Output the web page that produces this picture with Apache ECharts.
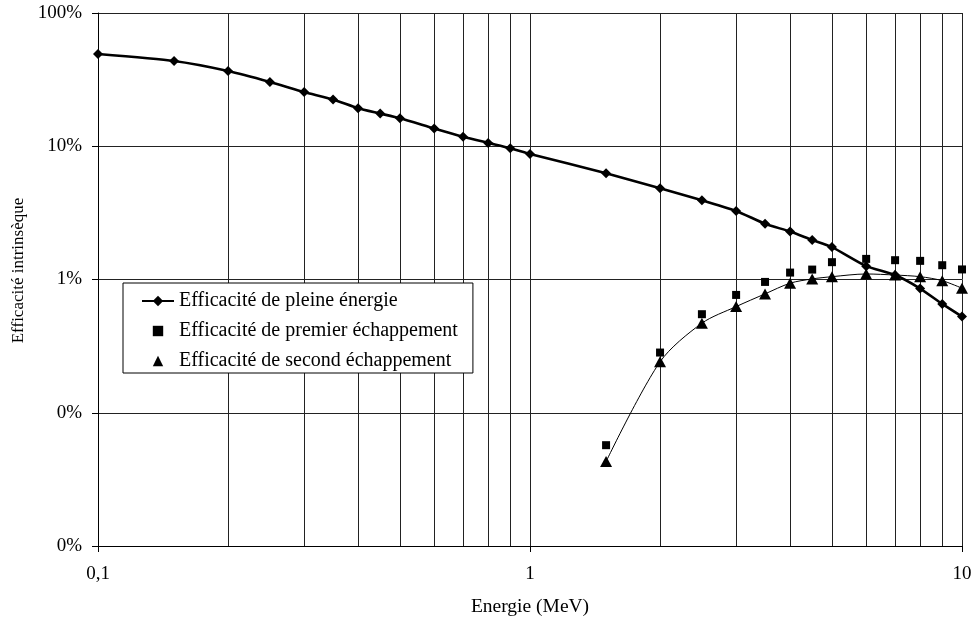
<!DOCTYPE html>
<html>
<head>
<meta charset="utf-8">
<title>Efficacité intrinsèque</title>
<script src="https://cdn.jsdelivr.net/npm/echarts@6/dist/echarts.min.js"></script>
<style>
  html, body { margin: 0; padding: 0; background: #fff; }
  #chart { width: 976px; height: 619px; }
</style>
</head>
<body>
<div id="chart"></div>
<script>
  // energies (MeV) and efficiencies (fraction, 1 = 100%)
  const energies = [0.1, 0.15, 0.2, 0.25, 0.3, 0.35, 0.4, 0.45, 0.5, 0.6, 0.7, 0.8, 0.9, 1,
    1.5, 2, 2.5, 3, 3.5, 4, 4.5, 5, 6, 7, 8, 9, 10]
  const pleine = [0.492, 0.436, 0.367, 0.304, 0.255, 0.224, 0.193, 0.176, 0.162, 0.136, 0.118, 0.106, 0.0966, 0.0875,
    0.0627, 0.0484, 0.0394, 0.0327, 0.0262, 0.0229, 0.0198, 0.0175, 0.0126, 0.0108, 0.00855, 0.00656, 0.00527]

  const escEnergies = [1.5, 2, 2.5, 3, 3.5, 4, 4.5, 5, 6, 7, 8, 9, 10]
  const premier = [0.000571, 0.00283, 0.00549, 0.00766, 0.00959, 0.01127, 0.01187, 0.01349, 0.01428, 0.01396, 0.0138, 0.0128, 0.0119]
  const second = [0.00043, 0.00241, 0.0047, 0.00626, 0.0078, 0.00938, 0.0101, 0.0105, 0.0110, 0.0108, 0.0105, 0.0098, 0.0086]

  const xTickLabels = ['0,1', '1', '10']
  const yTickLabels = ['0%', '0%', '1%', '10%', '100%']
  const minorGrid = [0.2, 0.3, 0.4, 0.5, 0.6, 0.7, 0.8, 0.9, 2, 3, 4, 5, 6, 7, 8, 9]

  const names = ['Efficacité de pleine énergie', 'Efficacité de premier échappement', 'Efficacité de second échappement']

  const font = 'Liberation Serif'
  const zip = (xs, ys) => xs.map((x, i) => [x, ys[i]])

  const chart = echarts.init(document.getElementById('chart'))

  const option = {
    backgroundColor: '#fff',
    animation: false,
    textStyle: { fontFamily: font, color: '#000' },
    grid: { left: 98, top: 13, right: 14, bottom: 73, outerBoundsMode: 'none' },
    legend: {
      left: 123,
      top: 283,
      orient: 'vertical',
      selectedMode: false,
      backgroundColor: '#fff',
      borderColor: '#000',
      borderWidth: 1,
      padding: [8, 15, 2, 18],
      itemGap: 10,
      itemWidth: 32,
      itemHeight: 13,
      textStyle: { fontFamily: font, fontSize: 20, color: '#000' },
      data: [
        { name: names[0] },
        { name: names[1] },
        { name: names[2], lineStyle: { opacity: 0 } }
      ]
    },
    xAxis: {
      type: 'log',
      logBase: 10,
      min: 0.1,
      max: 10,
      name: 'Energie (MeV)',
      nameLocation: 'middle',
      nameGap: 51,
      nameTextStyle: { fontFamily: font, fontSize: 19.5, color: '#000' },
      axisLine: { show: true, lineStyle: { color: '#000', width: 1 } },
      axisTick: { show: true, length: 6, lineStyle: { color: '#000' } },
      axisLabel: {
        fontFamily: font, fontSize: 19, color: '#000', margin: 19,
        formatter: (v, i) => xTickLabels[i]
      },
      splitLine: { show: true, lineStyle: { color: '#222', width: 1 } }
    },
    yAxis: {
      type: 'log',
      logBase: 10,
      min: 0.0001,
      max: 1,
      name: 'Efficacité intrinsèque',
      nameLocation: 'middle',
      nameGap: 60,
      nameTextStyle: { fontFamily: font, fontSize: 17, color: '#000', padding: [0, 0, 0, 18] },
      axisLine: { show: true, lineStyle: { color: '#000', width: 1 } },
      axisTick: { show: true, length: 6, lineStyle: { color: '#000' } },
      axisLabel: {
        fontFamily: font, fontSize: 19, color: '#000', margin: 16,
        formatter: (v, i) => yTickLabels[i]
      },
      splitLine: { show: true, lineStyle: { color: '#222', width: 1 } }
    },
    series: [
      {
        name: names[0],
        type: 'line',
        data: zip(energies, pleine),
        smooth: 0.2,
        symbol: 'diamond',
        symbolSize: 10,
        z: 4,
        itemStyle: { color: '#000' },
        lineStyle: { color: '#000', width: 2.6 },
        markLine: {
          silent: true,
          symbol: 'none',
          z: 1,
          label: { show: false },
          lineStyle: { color: '#222', width: 1, type: 'solid' },
          data: minorGrid.map(v => ({ xAxis: v }))
        }
      },
      {
        name: names[1],
        type: 'line',
        data: zip(escEnergies, premier),
        symbol: 'rect',
        symbolSize: 8,
        z: 3,
        itemStyle: { color: '#000' },
        lineStyle: { width: 0, opacity: 0 }
      },
      {
        name: names[2],
        type: 'line',
        data: zip(escEnergies, second),
        smooth: 0.3,
        symbol: 'triangle',
        symbolSize: [12, 11],
        z: 3,
        itemStyle: { color: '#000' },
        lineStyle: { color: '#000', width: 1 }
      }
    ]
  }

  chart.setOption(option)
</script>
</body>
</html>
